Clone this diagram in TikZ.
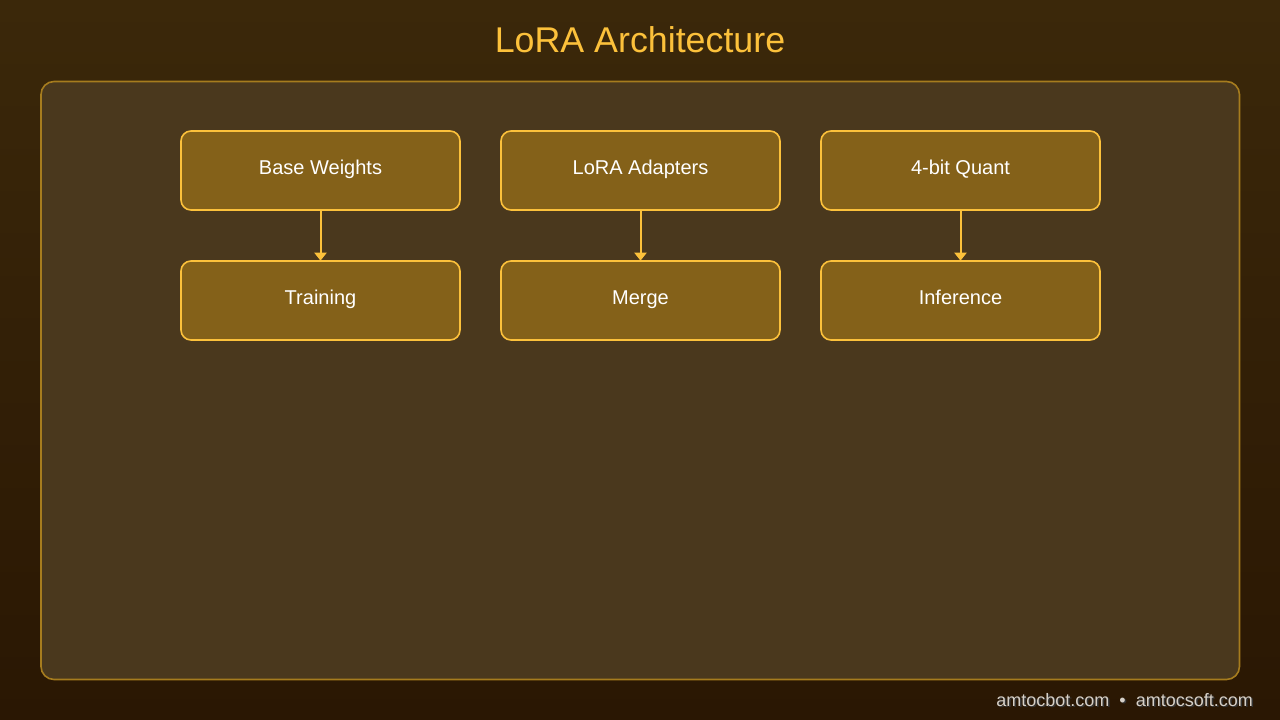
\documentclass[tikz,border=0pt]{standalone}
\usepackage{fontspec}
\setmainfont{Liberation Sans}
\usetikzlibrary{arrows.meta}
\definecolor{bgtop}{HTML}{3B280A}
\definecolor{bgbot}{HTML}{2A1703}
\definecolor{panelfill}{HTML}{4A381D}
\definecolor{panelline}{HTML}{A67C1E}
\definecolor{boxfill}{HTML}{846119}
\definecolor{gold}{HTML}{FCC13B}
\definecolor{foot}{HTML}{D6D0C8}
\tikzset{
  stepbox/.style={draw=gold, line width=1.6pt, fill=boxfill, rounded corners=10pt,
    minimum width=279pt, minimum height=79pt, inner sep=0pt,
    text=white, font=\fontsize{20}{23}\selectfont, text height=14.5pt, text depth=6pt},
  flowarrow/.style={draw=gold, line width=2pt, -{Triangle[length=8pt,width=12pt]}, shorten >=-0.5pt},
  foottext/.style={font=\fontsize{18}{21}\selectfont, anchor=base east, inner sep=0pt}
}
\begin{document}
\begin{tikzpicture}[x=1pt,y=-1pt]
\useasboundingbox (0,0) rectangle (1280,720);
\shade[top color=bgtop, bottom color=bgbot] (0,0) rectangle (1280,720);
\draw[draw=panelline, line width=1.6pt, fill=panelfill, rounded corners=13pt] (41,81.5) rectangle (1239.5,679.5);
\node[text=gold, font=\fontsize{35.8}{40}\selectfont, anchor=base, inner sep=0pt] (title) at (640,52.5) {LoRA Architecture};
\node[stepbox] (base) at (320.5,170.5) {Base Weights};
\node[stepbox] (lora) at (640.5,170.5) {LoRA Adapters};
\node[stepbox] (quant) at (960.5,170.5) {4-bit Quant};
\node[stepbox] (train) at (320.5,300.5) {Training};
\node[stepbox] (merge) at (640.5,300.5) {Merge};
\node[stepbox] (infer) at (960.5,300.5) {Inference};
\draw[flowarrow] (base) -- (train);
\draw[flowarrow] (lora) -- (merge);
\draw[flowarrow] (quant) -- (infer);
\node[foottext, text=black!80] (footshadow) at (1254.5,707.5) {amtocbot.com\ \ •\ \ amtocsoft.com};
\node[foottext, text=foot] (footer) at (1253,706) {amtocbot.com\ \ •\ \ amtocsoft.com};
\end{tikzpicture}
\end{document}
